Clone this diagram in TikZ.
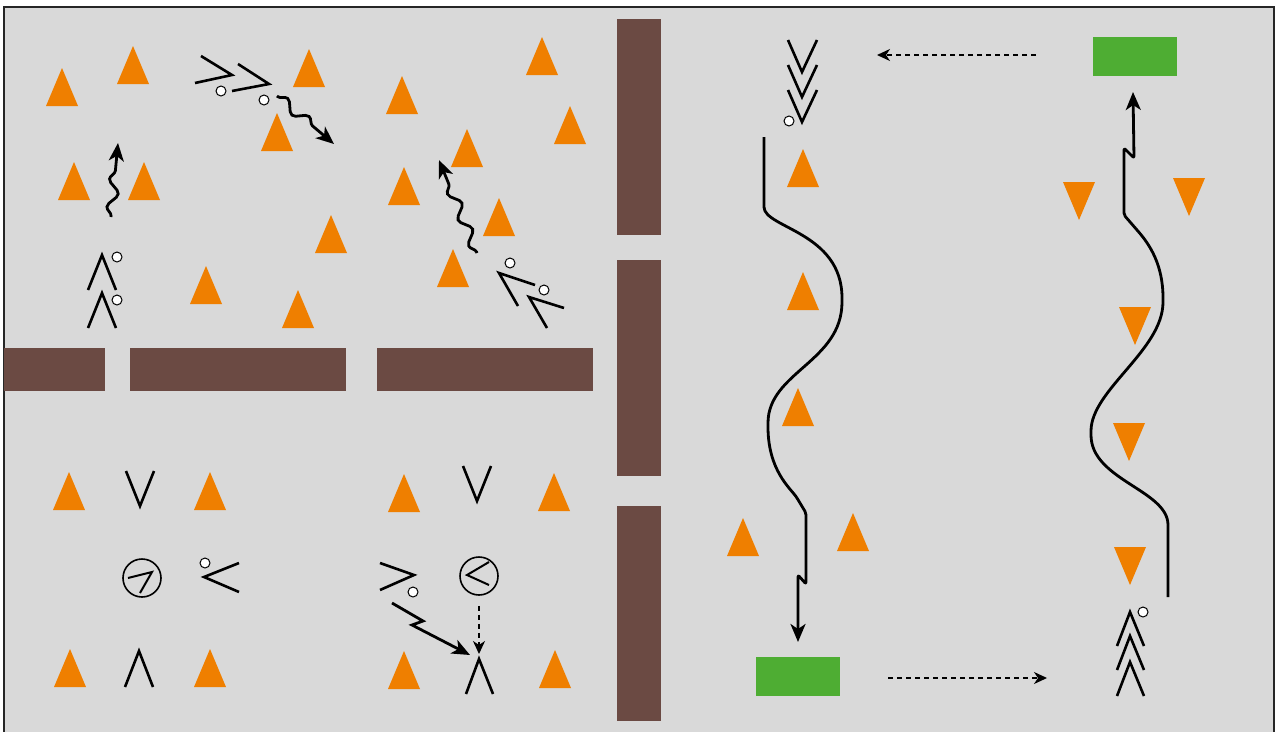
\documentclass[tikz,border=0pt]{standalone}
\usetikzlibrary{arrows.meta,decorations.pathmorphing}
\definecolor{bg}{HTML}{D9D9D9}
\definecolor{wall}{HTML}{6B4A43}
\definecolor{cone}{HTML}{EF7F00}
\definecolor{goal}{HTML}{4EAD33}
\tikzset{
  coneup/.pic={\fill[cone] (-16,38) -- (0,0) -- (16,38) -- cycle;},
  conedown/.pic={\fill[cone] (-16,0) -- (16,0) -- (0,38) -- cycle;},
  chevline/.style={line width=2.6pt, line cap=butt, line join=miter},
  dot/.style={circle, draw, fill=white, line width=1pt, minimum size=10pt, inner sep=0pt},
  ring/.style={circle, draw, line width=1.6pt, minimum size=38pt, inner sep=0pt},
  wallbox/.style={fill=wall},
  goalbox/.style={fill=goal},
  bigtip/.style={-{Stealth[length=18pt,width=15pt,inset=5pt]}},
  wave/.style={line width=2.8pt, bigtip, decorate,
    decoration={snake, amplitude=5pt, segment length=28pt, pre length=1pt, post length=14pt}},
  runpath/.style={line width=2.8pt, bigtip, line join=round, rounded corners=2pt},
  dashedarrow/.style={line width=1.6pt, dash pattern=on 5pt off 4pt, -{Stealth[length=13pt,width=12pt,inset=4pt]}},
}
\begin{document}
\begin{tikzpicture}[x=1pt,y=-1pt]
\useasboundingbox (0,0) rectangle (1276,731);
\clip (0,0) rectangle (1276,731);
\draw[fill=bg, line width=1.5pt, draw=black!85] (4,7) rectangle (1274,745);
% walls
\fill[wallbox] (4,348) rectangle (105,391);
\fill[wallbox] (130,348) rectangle (346,391);
\fill[wallbox] (377,348) rectangle (593,391);
\fill[wallbox] (617,19) rectangle (661,235);
\fill[wallbox] (617,260) rectangle (661,476);
\fill[wallbox] (617,506) rectangle (661,721);
% goals
\node[goalbox, minimum width=84pt, minimum height=39pt, inner sep=0pt] (g1) at (1135,56.5) {};
\node[goalbox, minimum width=84pt, minimum height=39pt, inner sep=0pt] (g2) at (798,676.5) {};
% cones up
\foreach \x/\y in {62/68,133/46,309/49,277/113,74/162,144/162,331/215,206/266,298/290,
  402/76,542/37,570/106,467/129,404/167,499/198,453/249,
  69/472,210/472,70/649,210/649,404/474,554/473,404/651,555/650,
  803/149,803/272,798/388,743/518,853/513}
  \pic at (\x,\y) {coneup};
% cones down
\foreach \x/\y in {1079/182,1189/178,1135/307,1129/423,1130/547}
  \pic at (\x,\y) {conedown};
% chevrons
\draw[chevline] (88,290) -- (102,255) -- (116,290);
\draw[chevline] (88,328) -- (102,293) -- (116,328);
\draw[chevline] (201,56) -- (232,75) -- (195,83);
\draw[chevline] (238,64) -- (269,84) -- (232,91);
\draw[chevline] (518,306) -- (499,273) -- (535,285);
\draw[chevline] (547,328) -- (529,297) -- (564,308);
\draw[chevline] (126,471) -- (140,506) -- (154,471);
\draw[chevline, line width=2pt] (128,578) -- (152,572) -- (140,593);
\draw[chevline] (239,563) -- (204,577) -- (239,592);
\draw[chevline] (125,687) -- (139,651) -- (153,687);
\draw[chevline] (463,466) -- (477,501) -- (491,466);
\draw[chevline] (380,563) -- (414,575) -- (380,590);
\draw[chevline, line width=2pt] (489,562) -- (467,575) -- (489,585);
\draw[chevline] (466,694) -- (479,659) -- (493,694);
\foreach \y in {40,65,90} \draw[chevline] (788,\y) -- (802,\y+32) -- (817,\y);
\foreach \y in {612,636,662} \draw[chevline] (1117,\y+34) -- (1130,\y) -- (1144,\y+34);
% rings
\node[ring] (r1) at (142,578) {};
\node[ring] (r2) at (479,576) {};
% dots
\node[dot] (d1) at (117,257) {};
\node[dot] (d2) at (117,300) {};
\node[dot] (d3) at (221,91) {};
\node[dot] (d4) at (264,100) {};
\node[dot] (d5) at (510,263) {};
\node[dot] (d6) at (544,290) {};
\node[dot] (d7) at (205,563) {};
\node[dot] (d8) at (413,592) {};
\node[dot] (d9) at (789,121) {};
\node[dot] (d10) at (1143,612) {};
% coordinates
\coordinate (w1s) at (111,217); \coordinate (w1e) at (118,143);
\coordinate (w2s) at (277,96);  \coordinate (w2e) at (334,144);
\coordinate (w3s) at (477,253); \coordinate (w3e) at (439,160);
\coordinate (zs) at (392,603);  \coordinate (ze) at (470,655);
\coordinate (c14) at (479,654);
\coordinate (ds1) at (1036,55); \coordinate (de1) at (877,55);
\coordinate (ds2) at (888,678); \coordinate (de2) at (1047,678);
% wavy arrows
\draw[wave] (w1s) -- (w1e);
\draw[wave] (w2s) -- (w2e);
\draw[wave] (w3s) -- (w3e);
% lightning
\draw[line width=2.8pt, bigtip] (zs) -- (423,621) -- (412,625) -- (ze);
% dashed
\draw[dashedarrow] (r2.south) ++(0,10) -- (c14);
\draw[dashedarrow] (ds1) -- (de1);
\draw[dashedarrow] (ds2) -- (de2);
% left path
\draw[runpath] (764,137) -- (764,205) .. controls (764,228) and (842,232) .. (842,300)
  .. controls (842,362) and (768,372) .. (768,425)
  .. controls (768,470) and (790,488) .. (797,498) -- (806,513) -- (806,584) -- (798,575) -- (798,642);
% right path
\draw[runpath] (1168,597) -- (1168,527) .. controls (1168,490) and (1091,480) .. (1091,433)
  .. controls (1091,390) and (1163,350) .. (1163,300)
  .. controls (1163,265) and (1150,245) .. (1137,230) -- (1124,215) -- (1124,148) -- (1134,158) -- (1133,92);
\end{tikzpicture}
\end{document}
